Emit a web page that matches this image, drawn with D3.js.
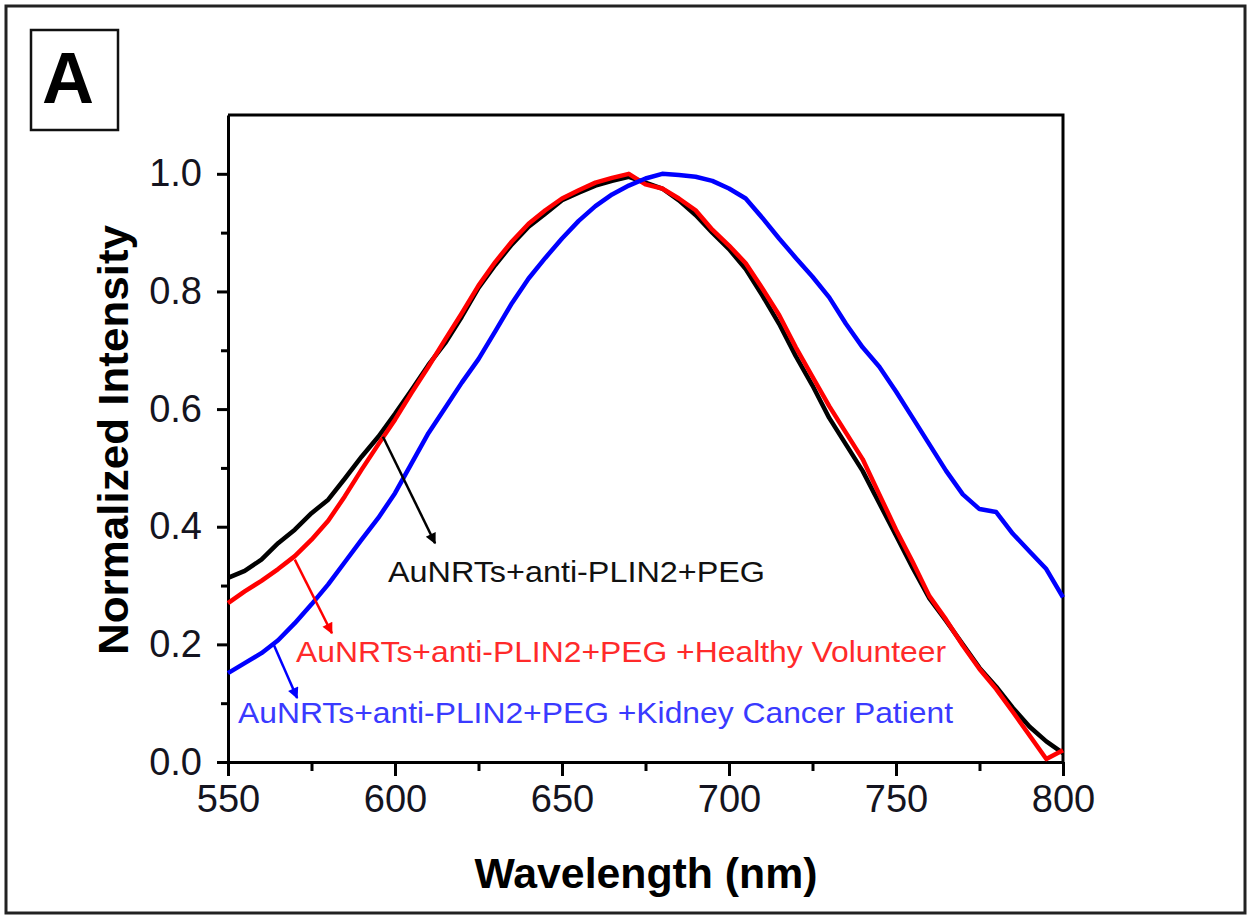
<!DOCTYPE html>
<html>
<head>
<meta charset="utf-8">
<script src="https://cdn.jsdelivr.net/npm/d3@7"></script>
<style>
  body { margin: 0; background: #fff; }
  text { font-family: "Liberation Sans", Arial, sans-serif; }
</style>
</head>
<body>
<div id="chart"></div>
<script>

// wavelength grid (nm)
var wavelength = [550, 555, 560, 565, 570, 575, 580, 585, 590, 595,
                  600, 605, 610, 615, 620, 625, 630, 635, 640, 645,
                  650, 655, 660, 665, 670, 675, 680, 685, 690, 695,
                  700, 705, 710, 715, 720, 725, 730, 735, 740, 745,
                  750, 755, 760, 765, 770, 775, 780, 785, 790, 795, 800];

// AuNRTs+anti-PLIN2+PEG
var blackSeries = [0.313, 0.325, 0.344, 0.372, 0.395, 0.423, 0.446, 0.482, 0.519, 0.553,
                   0.592, 0.633, 0.675, 0.712, 0.757, 0.806, 0.845, 0.880, 0.910, 0.932,
                   0.955, 0.968, 0.980, 0.988, 0.995, 0.985, 0.975, 0.955, 0.930, 0.900,
                   0.872, 0.838, 0.793, 0.745, 0.690, 0.640, 0.585, 0.540, 0.495, 0.440,
                   0.385, 0.330, 0.278, 0.240, 0.200, 0.160, 0.128, 0.092, 0.060, 0.035, 0.015];

// + Healthy Volunteer
var redSeries = [0.270, 0.290, 0.308, 0.328, 0.350, 0.378, 0.410, 0.452, 0.497, 0.540,
                 0.582, 0.628, 0.672, 0.718, 0.763, 0.810, 0.850, 0.885, 0.915, 0.938,
                 0.958, 0.972, 0.985, 0.993, 1.000, 0.982, 0.975, 0.958, 0.938, 0.905,
                 0.878, 0.848, 0.805, 0.760, 0.705, 0.655, 0.605, 0.560, 0.515, 0.455,
                 0.395, 0.340, 0.282, 0.242, 0.198, 0.158, 0.124, 0.085, 0.045, 0.005, 0.020];

// + Kidney Cancer Patient
var blueSeries = [0.151, 0.168, 0.185, 0.207, 0.236, 0.268, 0.302, 0.340, 0.378, 0.415,
                  0.457, 0.508, 0.559, 0.602, 0.645, 0.685, 0.732, 0.780, 0.822, 0.857,
                  0.890, 0.920, 0.945, 0.965, 0.980, 0.992, 1.000, 0.998, 0.995, 0.988,
                  0.975, 0.958, 0.925, 0.890, 0.857, 0.825, 0.790, 0.745, 0.705, 0.672,
                  0.630, 0.585, 0.540, 0.495, 0.455, 0.430, 0.425, 0.388, 0.358, 0.328, 0.280];

var seriesNames = ["AuNRTs+anti-PLIN2+PEG",
                   "AuNRTs+anti-PLIN2+PEG +Healthy Volunteer",
                   "AuNRTs+anti-PLIN2+PEG +Kidney Cancer Patient"];

var xTicks = [550, 600, 650, 700, 750, 800];
var yTicks = [0.0, 0.2, 0.4, 0.6, 0.8, 1.0];

// page / plot box
var W = 1251, H = 919;
var margin = { top: 115, right: 188, bottom: 157, left: 228 };
var width = W - margin.left - margin.right,
    height = H - margin.top - margin.bottom;

var svg = d3.select("#chart")
    .append("svg")
    .attr("width", W)
    .attr("height", H);

// outer panel frame
svg.append("rect")
    .attr("x", 6).attr("y", 6)
    .attr("width", W - 12).attr("height", H - 12)
    .attr("fill", "none")
    .attr("stroke", "#222")
    .attr("stroke-width", 3);

// panel letter
svg.append("rect")
    .attr("x", 31).attr("y", 30)
    .attr("width", 87).attr("height", 100)
    .attr("fill", "none")
    .attr("stroke", "#111")
    .attr("stroke-width", 2.5);
svg.append("text")
    .attr("x", 68).attr("y", 103)
    .attr("text-anchor", "middle")
    .style("font-size", "72px")
    .style("font-weight", "bold")
    .text("A");

var g = svg.append("g")
    .attr("transform", "translate(" + margin.left + "," + margin.top + ")");

var x = d3.scaleLinear().domain([550, 800]).range([0, width]);
var y = d3.scaleLinear().domain([0, 1.1]).range([height, 0]);

// minor ticks first so the major axis sits on top
g.append("g")
    .attr("transform", "translate(0," + height + ")")
    .call(d3.axisBottom(x).tickValues([575, 625, 675, 725, 775]).tickSize(9).tickSizeOuter(0).tickFormat(""))
    .call(function (a) { a.select(".domain").remove(); })
    .selectAll("line").attr("stroke-width", 3);
g.append("g")
    .call(d3.axisLeft(y).tickValues([0.1, 0.3, 0.5, 0.7, 0.9]).tickSize(7).tickSizeOuter(0).tickFormat(""))
    .call(function (a) { a.select(".domain").remove(); })
    .selectAll("line").attr("stroke-width", 3);

// X axis
var xAxis = g.append("g")
    .attr("transform", "translate(0," + height + ")")
    .call(d3.axisBottom(x).tickValues(xTicks).tickSize(14).tickSizeOuter(0).tickPadding(9));

// Y axis
var yAxis = g.append("g")
    .call(d3.axisLeft(y).tickValues(yTicks).tickSize(11).tickSizeOuter(0).tickPadding(15)
        .tickFormat(d3.format(".1f")));

[xAxis, yAxis].forEach(function (a) {
    a.select(".domain").attr("stroke-width", 3).attr("stroke", "#000");
    a.selectAll(".tick line").attr("stroke-width", 3);
    a.selectAll(".tick text")
        .style("font-size", "38px")
        .style("font-family", "'Liberation Sans', Arial, sans-serif")
        .attr("fill", "#141420");
});

// top and right frame
g.append("path")
    .attr("d", "M0,0H" + width + "V" + height)
    .attr("fill", "none")
    .attr("stroke", "#000")
    .attr("stroke-width", 3);

// the three spectra
var line = d3.line()
    .x(function (d, i) { return x(wavelength[i]) })
    .y(function (d) { return y(d) });

var curves = [
    { values: blackSeries, color: "#000000" },
    { values: redSeries, color: "#ff0000" },
    { values: blueSeries, color: "#0000ff" }
];

g.selectAll(".spectrum")
    .data(curves)
    .enter()
    .append("path")
    .attr("class", "spectrum")
    .attr("d", function (d) { return line(d.values) })
    .attr("fill", "none")
    .attr("stroke", function (d) { return d.color })
    .attr("stroke-width", 4.5)
    .attr("stroke-linejoin", "round");

// annotation arrows + labels (placed in data units)
var notes = [
    { name: seriesNames[0], color: "#000000", text: "#111111", from: [596.4, 0.553], to: [612, 0.372], at: [597.9, 0.306], len: 377 },
    { name: seriesNames[1], color: "#ff0000", text: "#ff2a2a", from: [570, 0.344], to: [581.1, 0.219], at: [570.4, 0.170], len: 650 },
    { name: seriesNames[2], color: "#0000ff", text: "#3a3aff", from: [563.5, 0.202], to: [570.7, 0.109], at: [553, 0.066], len: 715 }
];

var defs = svg.append("defs");
notes.forEach(function (n, i) {
    defs.append("marker")
        .attr("id", "arrow" + i)
        .attr("viewBox", "0 0 10 10")
        .attr("refX", 9).attr("refY", 5)
        .attr("markerWidth", 16).attr("markerHeight", 11)
        .attr("markerUnits", "userSpaceOnUse")
        .attr("orient", "auto")
        .append("path")
        .attr("d", "M0,0L10,5L0,10z")
        .attr("fill", n.color);
});

g.selectAll(".note-arrow")
    .data(notes)
    .enter()
    .append("line")
    .attr("class", "note-arrow")
    .attr("x1", function (d) { return x(d.from[0]) })
    .attr("y1", function (d) { return y(d.from[1]) })
    .attr("x2", function (d) { return x(d.to[0]) })
    .attr("y2", function (d) { return y(d.to[1]) })
    .attr("stroke", function (d) { return d.color })
    .attr("stroke-width", 2.5)
    .attr("marker-end", function (d, i) { return "url(#arrow" + i + ")" });

g.selectAll(".note-text")
    .data(notes)
    .enter()
    .append("text")
    .attr("class", "note-text")
    .attr("x", function (d) { return x(d.at[0]) })
    .attr("y", function (d) { return y(d.at[1]) })
    .attr("fill", function (d) { return d.text })
    .attr("textLength", function (d) { return d.len })
    .attr("lengthAdjust", "spacingAndGlyphs")
    .style("font-size", "30px")
    .text(function (d) { return d.name });

// axis titles
svg.append("text")
    .attr("x", 646).attr("y", 888)
    .attr("text-anchor", "middle")
    .attr("textLength", 343)
    .attr("lengthAdjust", "spacingAndGlyphs")
    .style("font-size", "42px")
    .style("font-weight", "bold")
    .text("Wavelength (nm)");

svg.append("text")
    .attr("transform", "translate(128,440) rotate(-90)")
    .attr("text-anchor", "middle")
    .attr("textLength", 430)
    .attr("lengthAdjust", "spacingAndGlyphs")
    .style("font-size", "43px")
    .style("font-weight", "bold")
    .text("Normalized Intensity");

</script>
</body>
</html>
